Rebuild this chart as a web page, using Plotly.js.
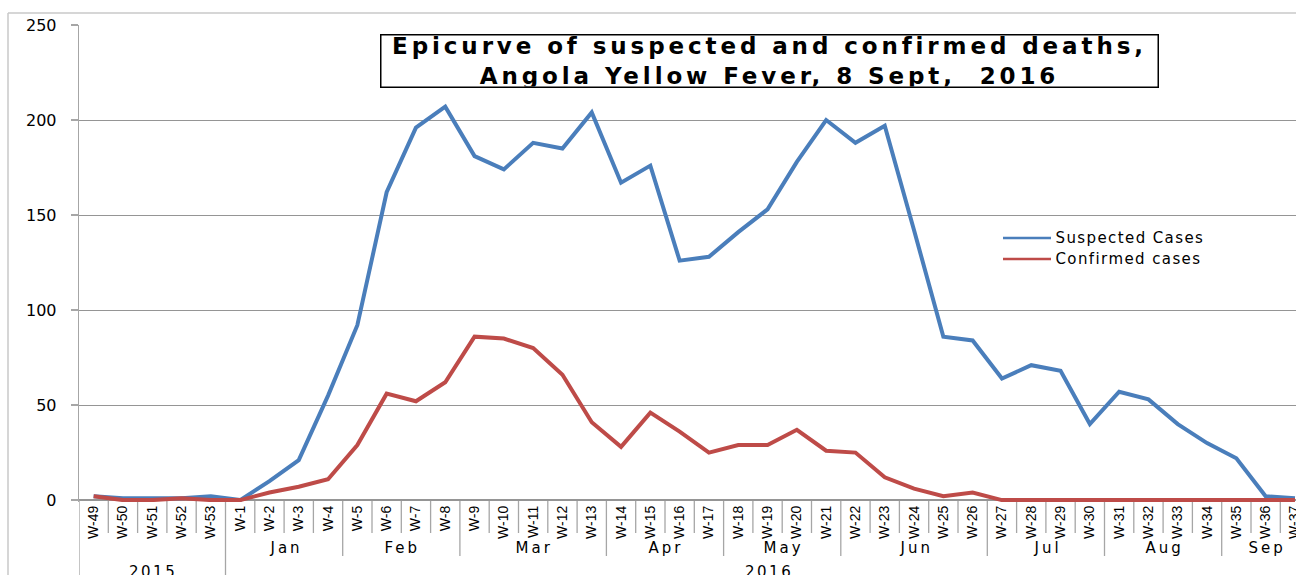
<!DOCTYPE html>
<html>
<head>
<meta charset="utf-8">
<script src="https://cdn.plot.ly/plotly-3.0.1.min.js"></script>
<style>
  html, body { margin: 0; padding: 0; background: #ffffff; }
  #chart { width: 1296px; height: 575px; }
</style>
</head>
<body>
<div id="chart"></div>
<script>
// ---- Data ----
const weeks = ['W-49','W-50','W-51','W-52','W-53',
  'W-1','W-2','W-3','W-4','W-5','W-6','W-7','W-8','W-9','W-10',
  'W-11','W-12','W-13','W-14','W-15','W-16','W-17','W-18','W-19','W-20',
  'W-21','W-22','W-23','W-24','W-25','W-26','W-27','W-28','W-29','W-30',
  'W-31','W-32','W-33','W-34','W-35','W-36','W-37'];

const monthOfWeek = ['','','','','',
  'Jan','Jan','Jan','Jan',
  'Feb','Feb','Feb','Feb',
  'Mar','Mar','Mar','Mar','Mar',
  'Apr','Apr','Apr','Apr',
  'May','May','May','May',
  'Jun','Jun','Jun','Jun','Jun',
  'Jul','Jul','Jul','Jul',
  'Aug','Aug','Aug','Aug',
  'Sep','Sep','Sep'];

const yearOfWeek = ['2015','2015','2015','2015','2015',
  '2016','2016','2016','2016','2016','2016','2016','2016','2016','2016',
  '2016','2016','2016','2016','2016','2016','2016','2016','2016','2016',
  '2016','2016','2016','2016','2016','2016','2016','2016','2016','2016',
  '2016','2016','2016','2016','2016','2016','2016'];

const seriesNames = ['Suspected Cases', 'Confirmed cases'];

const suspected = [2,1,1,1,2,
  0,10,21,55,92,162,196,207,181,174,
  188,185,204,167,176,126,128,141,153,178,
  200,188,197,142,86,84,64,71,68,40,
  57,53,40,30,22,2,1];

const confirmed = [2,0,0,1,0,
  0,4,7,11,29,56,52,62,86,85,
  80,66,41,28,46,36,25,29,29,37,
  26,25,12,6,2,4,0,0,0,0,
  0,0,0,0,0,0,0];

const titleLines = ['Epicurve of suspected and confirmed deaths,', 'Angola Yellow Fever, 8 Sept,  2016'];

// ---- Layout helpers ----
const W = 1296, H = 575;
const M = {l: 79, r: 0, t: 25, b: 73};
const plotW = W - M.l - M.r, plotH = H - M.t - M.b;
const px2x = p => (p - M.l) / plotW;          // pixel -> paper x
const py2y = p => (H - M.b - p) / plotH;      // pixel -> paper y
const catW = 29.3;
const xMax = -0.5 + plotW / catW;

const colors = ['#4a7ebb', '#be4b48'];
const gridCol = '#959595';
const sepCol = '#a6a6a6';
const baseFont = 'DejaVu Sans, Verdana, sans-serif';

const traces = [
  {x: weeks, y: suspected, name: seriesNames[0], type: 'scatter', mode: 'lines',
   line: {color: colors[0], width: 4}, showlegend: false, hoverinfo: 'x+y'},
  {x: weeks, y: confirmed, name: seriesNames[1], type: 'scatter', mode: 'lines',
   line: {color: colors[1], width: 4}, showlegend: false, hoverinfo: 'x+y'}
];

const shapes = [];
const annotations = [];
const spacingCss = [];
function addAnn(a, spacing) {
  if (spacing) spacingCss.push('#chart .annotation[data-index="' + annotations.length + '"] text { letter-spacing: ' + spacing + 'px; }');
  annotations.push(a);
}

// separators between categories (week / month / year level)
for (let i = 1; i < weeks.length; i++) {
  let y1;
  if (yearOfWeek[i] !== yearOfWeek[i-1]) y1 = py2y(585);
  else if (monthOfWeek[i] !== monthOfWeek[i-1]) y1 = py2y(556);
  else y1 = py2y(533);
  shapes.push({type: 'line', xref: 'x', yref: 'paper', x0: i - 0.5, x1: i - 0.5,
    y0: py2y(500), y1: y1, line: {color: sepCol, width: 1.3}, layer: 'below'});
}
// left axis extension down through label area
shapes.push({type: 'line', xref: 'x', yref: 'paper', x0: -0.5, x1: -0.5,
  y0: py2y(500), y1: py2y(585), line: {color: sepCol, width: 1.3}});

// group labels (months, years)
function runs(arr) {
  const out = [];
  let s = 0;
  for (let i = 1; i <= arr.length; i++) {
    if (i === arr.length || arr[i] !== arr[s]) { out.push({label: arr[s], start: s, end: i - 1}); s = i; }
  }
  return out;
}
runs(monthOfWeek).forEach(g => {
  if (!g.label) return;
  addAnn({xref: 'x', yref: 'paper', x: (g.start + g.end) / 2, y: py2y(548),
    text: g.label, showarrow: false, xanchor: 'center', yanchor: 'middle', xshift: 1.5,
    font: {family: baseFont, size: 15, color: '#000'}}, 3);
});
runs(yearOfWeek).forEach(g => {
  addAnn({xref: 'x', yref: 'paper', x: (g.start + g.end) / 2, y: py2y(572),
    text: g.label, showarrow: false, xanchor: 'center', yanchor: 'middle', xshift: 1.2,
    font: {family: baseFont, size: 15, color: '#000'}}, 2.5);
});

// title box
addAnn({xref: 'paper', yref: 'paper', x: px2x(767), y: py2y(61),
  xanchor: 'center', yanchor: 'middle', text: titleLines.map(s => '<b>' + s + '</b>').join('<br>'),
  showarrow: false, align: 'center', width: 776, height: 51, xshift: 2,
  bordercolor: '#000', borderwidth: 1.5, borderpad: 0, bgcolor: '#fff',
  font: {family: baseFont, size: 23, color: '#000'}}, 3.9);

// manual legend
const legY = [238, 259];
const legSpacing = 1.4;
seriesNames.forEach((nm, k) => {
  shapes.push({type: 'line', xref: 'paper', yref: 'paper', x0: px2x(1003), x1: px2x(1051),
    y0: py2y(legY[k]), y1: py2y(legY[k]), line: {color: colors[k], width: 2.5}});
  addAnn({xref: 'paper', yref: 'paper', x: px2x(1053), y: py2y(legY[k]),
    xanchor: 'left', yanchor: 'middle', text: nm, showarrow: false,
    xshift: legSpacing * nm.length / 2,
    font: {family: baseFont, size: 15, color: '#000'}}, legSpacing);
});

// outer chart border (left & top)
shapes.push({type: 'line', xref: 'paper', yref: 'paper', x0: px2x(8), x1: px2x(8),
  y0: py2y(600), y1: py2y(13), line: {color: '#c8c8c8', width: 1.5}});
shapes.push({type: 'line', xref: 'paper', yref: 'paper', x0: px2x(8), x1: px2x(1310),
  y0: py2y(13), y1: py2y(13), line: {color: '#c8c8c8', width: 1.5}});

const st = document.createElement('style');
st.textContent = spacingCss.join('\n');
document.head.appendChild(st);

const layout = {
  width: W, height: H,
  margin: M,
  paper_bgcolor: '#ffffff', plot_bgcolor: '#ffffff',
  showlegend: false,
  xaxis: {
    type: 'category', range: [-0.5, xMax],
    tickmode: 'array', tickvals: weeks, ticktext: weeks,
    tickangle: -90, ticks: '', showgrid: false, zeroline: false, showline: false,
    tickfont: {family: 'Liberation Sans Narrow, Arial Narrow, Liberation Sans, sans-serif', size: 14, color: '#000'},
    fixedrange: true
  },
  yaxis: {
    range: [-1, 250], tick0: 0, dtick: 50, tickmode: 'linear',
    showgrid: true, gridcolor: gridCol, gridwidth: 1,
    zeroline: true, zerolinecolor: gridCol, zerolinewidth: 1.3,
    showline: true, linecolor: sepCol, linewidth: 1.3,
    ticks: 'outside', ticklen: 7, tickcolor: sepCol, tickwidth: 1.3,
    ticklabelstandoff: 11,
    tickfont: {family: baseFont, size: 16, color: '#000'},
    fixedrange: true
  },
  shapes: shapes,
  annotations: annotations
};

Plotly.newPlot('chart', traces, layout, {displayModeBar: false, staticPlot: true});
</script>
</body>
</html>
